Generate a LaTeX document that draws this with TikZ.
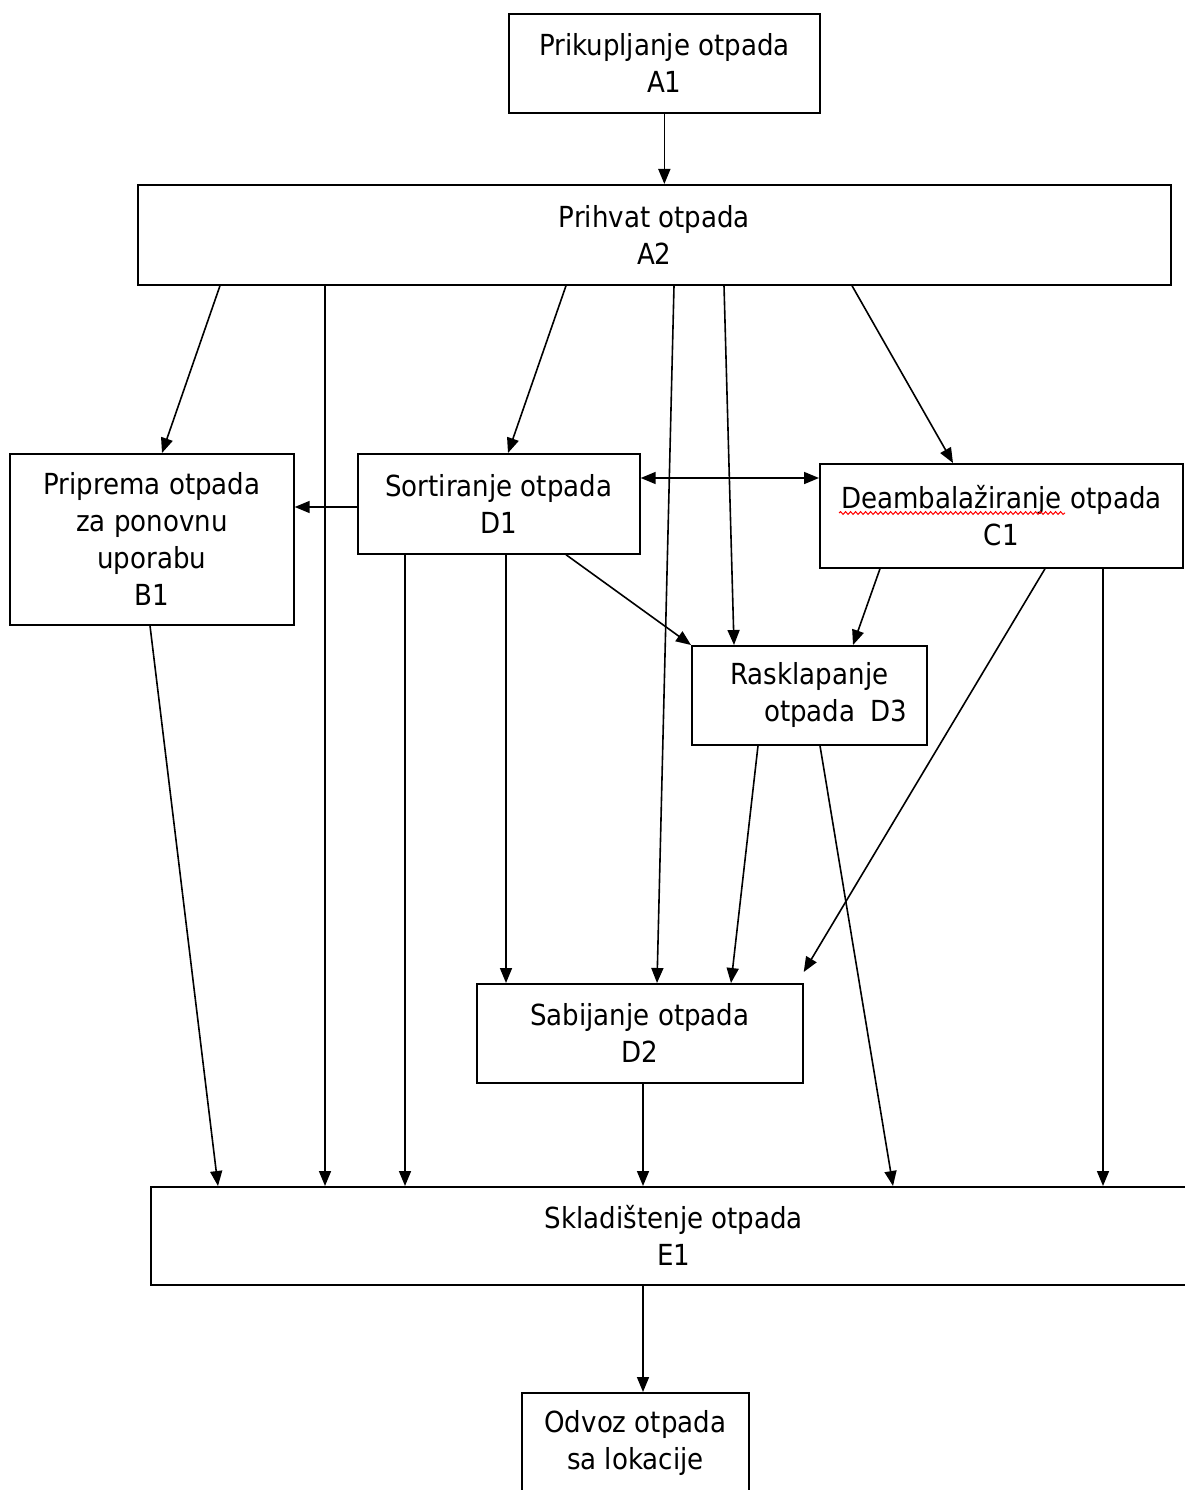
\documentclass[tikz,border=0pt]{standalone}
\usepackage{fontspec}
\setmainfont{DejaVu Sans}[FakeStretch=0.9]
\usetikzlibrary{arrows.meta,decorations.pathmorphing}
\tikzset{
    box/.style = {draw, line width=1.7pt, rectangle, inner sep=0pt, align=center,
        anchor=north west, font=\fontsize{29}{37}\selectfont},
    tip/.tip = {Triangle[length=15pt, width=12pt]},
    arr/.style = {line width=1.6pt, -tip},
    spell/.style = {red, line width=1pt, decorate,
        decoration={snake, amplitude=1.4pt, segment length=5pt}}
}
\begin{document}
\begin{tikzpicture}[x=1pt, y=-1pt]
    \useasboundingbox (0, 0) rectangle (1184, 1490);
    \node [box, minimum width=311pt, minimum height=99pt] (A1) at (508, 13) {Prikupljanje otpada\\A1};
    \node [box, minimum width=1033pt, minimum height=100pt] (A2) at (137, 184) {Prihvat otpada\\A2};
    \node [box, minimum width=284pt, minimum height=171pt] (B1) at (9, 453) {Priprema otpada\\za ponovnu\\uporabu\\B1};
    \node [box, minimum width=282pt, minimum height=100pt] (D1) at (357, 453) {Sortiranje otpada\\D1};
    \node [box, minimum width=363pt, minimum height=104pt] (C1) at (819, 463) {Deambalažiranje otpada\\C1};
    \node [box, minimum width=235pt, minimum height=99pt] (D3) at (691, 645) {Rasklapanje\\\hspace*{1.8em}otpada\enspace D3};
    \node [box, minimum width=326pt, minimum height=99pt] (D2) at (476, 983) {Sabijanje otpada\\D2};
    \node [box, minimum width=1046pt, minimum height=98pt] (E1) at (150, 1186) {Skladištenje otpada\\E1};
    \node [box, minimum width=227pt, minimum height=100pt] (odvoz) at (521, 1392) {Odvoz otpada\\sa lokacije};
    \draw [spell] ([xshift=20pt, yshift=-50pt]C1.north west) -- ++(226, 0);
    \draw [arr] (A1.south) -- (A1.south |- A2.north);
    \draw [arr] ([xshift=83pt]A2.south west) -- ([xshift=153pt]B1.north west);
    \draw [arr] ([xshift=188pt]A2.south west) -- ([xshift=175pt]E1.north west);
    \draw [arr] ([xshift=429pt]A2.south west) -- ([xshift=151pt]D1.north west);
    \draw [arr] ([xshift=537pt]A2.south west) -- ([xshift=181pt]D2.north west);
    \draw [arr] ([xshift=587pt]A2.south west) -- ([xshift=43pt]D3.north west);
    \draw [arr] ([xshift=715pt]A2.south west) -- ([xshift=134pt]C1.north west);
    \draw [arr, tip-tip] ([yshift=-25pt]D1.north east) -- ([yshift=-15pt]C1.north west);
    \draw [arr] ([yshift=-54pt]D1.north west) -- ([yshift=-54pt]B1.north east);
    \draw [arr] ([xshift=48pt]D1.south west) -- ([xshift=255pt]E1.north west);
    \draw [arr] ([xshift=149pt]D1.south west) -- ([xshift=30pt]D2.north west);
    \draw [arr] ([xshift=209pt]D1.south west) -- (D3.north west);
    \draw [arr] ([xshift=61pt]C1.south west) -- ([xshift=162pt]D3.north west);
    \draw [arr] ([xshift=226pt]C1.south west) -- ([yshift=11pt]D2.north east);
    \draw [arr] ([xshift=284pt]C1.south west) -- ([xshift=953pt]E1.north west);
    \draw [arr] ([xshift=67pt]D3.south west) -- ([xshift=255pt]D2.north west);
    \draw [arr] ([xshift=129pt]D3.south west) -- ([xshift=743pt]E1.north west);
    \draw [arr] ([xshift=141pt]B1.south west) -- ([xshift=68pt]E1.north west);
    \draw [arr] ([xshift=167pt]D2.south west) -- ([xshift=493pt]E1.north west);
    \draw [arr] ([xshift=493pt]E1.south west) -- ([xshift=122pt]odvoz.north west);
\end{tikzpicture}
\end{document}
